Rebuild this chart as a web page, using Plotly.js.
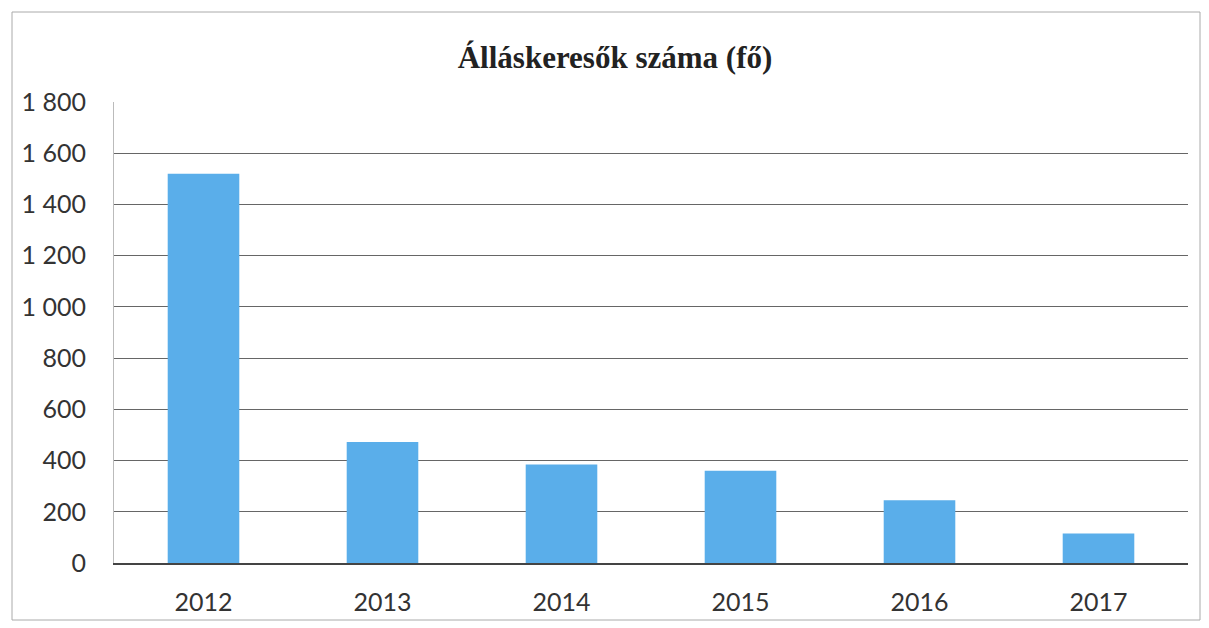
<!DOCTYPE html>
<html>
<head>
<meta charset="utf-8">
<script src="https://cdn.plot.ly/plotly-3.0.1.min.js"></script>
<style>html,body{margin:0;padding:0;background:#fff;}#chart{width:1209px;height:628px;}</style>
</head>
<body>
<div id="chart"></div>
<script>
const years = ['2012', '2013', '2014', '2015', '2016', '2017'];
const jobSeekers = [1520, 472, 385, 360, 245, 115];
const yTicks = [0, 200, 400, 600, 800, 1000, 1200, 1400, 1600, 1800];
const chartTitle = 'Álláskeresők száma (fő)';

const W = 1209, H = 628;
const m = {l: 114, r: 21, t: 102, b: 65};
const pw = W - m.l - m.r, ph = H - m.t - m.b;
function px2x(p) { return (p - m.l) / pw; }
function px2y(p) { return (H - m.b - p) / ph; }

const data = [{
  type: 'bar',
  x: years,
  y: jobSeekers,
  marker: {color: '#5AAEEA', line: {width: 0}},
  width: 0.4,
  hoverinfo: 'x+y'
}];

const layout = {
  width: W, height: H,
  margin: m,
  paper_bgcolor: '#fff',
  plot_bgcolor: '#fff',
  separators: ', ',
  showlegend: false,
  title: {
    text: chartTitle,
    font: {family: 'Liberation Serif', size: 31, color: '#222', weight: 'bold'},
    xref: 'container', x: 615 / W, xanchor: 'center',
    yref: 'container', y: 1 - 57 / H, yanchor: 'middle'
  },
  xaxis: {
    type: 'category',
    tickfont: {family: 'Lato', size: 25, color: '#333'},
    ticks: '',
    ticklabelstandoff: 16,
    showline: true, linecolor: '#444', linewidth: 1.5,
    showgrid: false, zeroline: false
  },
  yaxis: {
    range: [0, 1800],
    tickvals: yTicks,
    tickformat: ',d',
    separatethousands: true,
    tickfont: {family: 'Lato', size: 25, color: '#333'},
    ticks: '',
    ticklabelstandoff: 22,
    showline: true, linecolor: '#bbb', linewidth: 1,
    showgrid: true, gridcolor: '#666', gridwidth: 1,
    zeroline: false
  },
  shapes: [{
    type: 'rect', xref: 'paper', yref: 'paper',
    x0: px2x(12), x1: px2x(1200), y0: px2y(620), y1: px2y(12),
    line: {color: '#aaa', width: 1}, fillcolor: 'rgba(0,0,0,0)', layer: 'below'
  }]
};

Plotly.newPlot('chart', data, layout, {displayModeBar: false, staticPlot: true});
</script>
</body>
</html>
